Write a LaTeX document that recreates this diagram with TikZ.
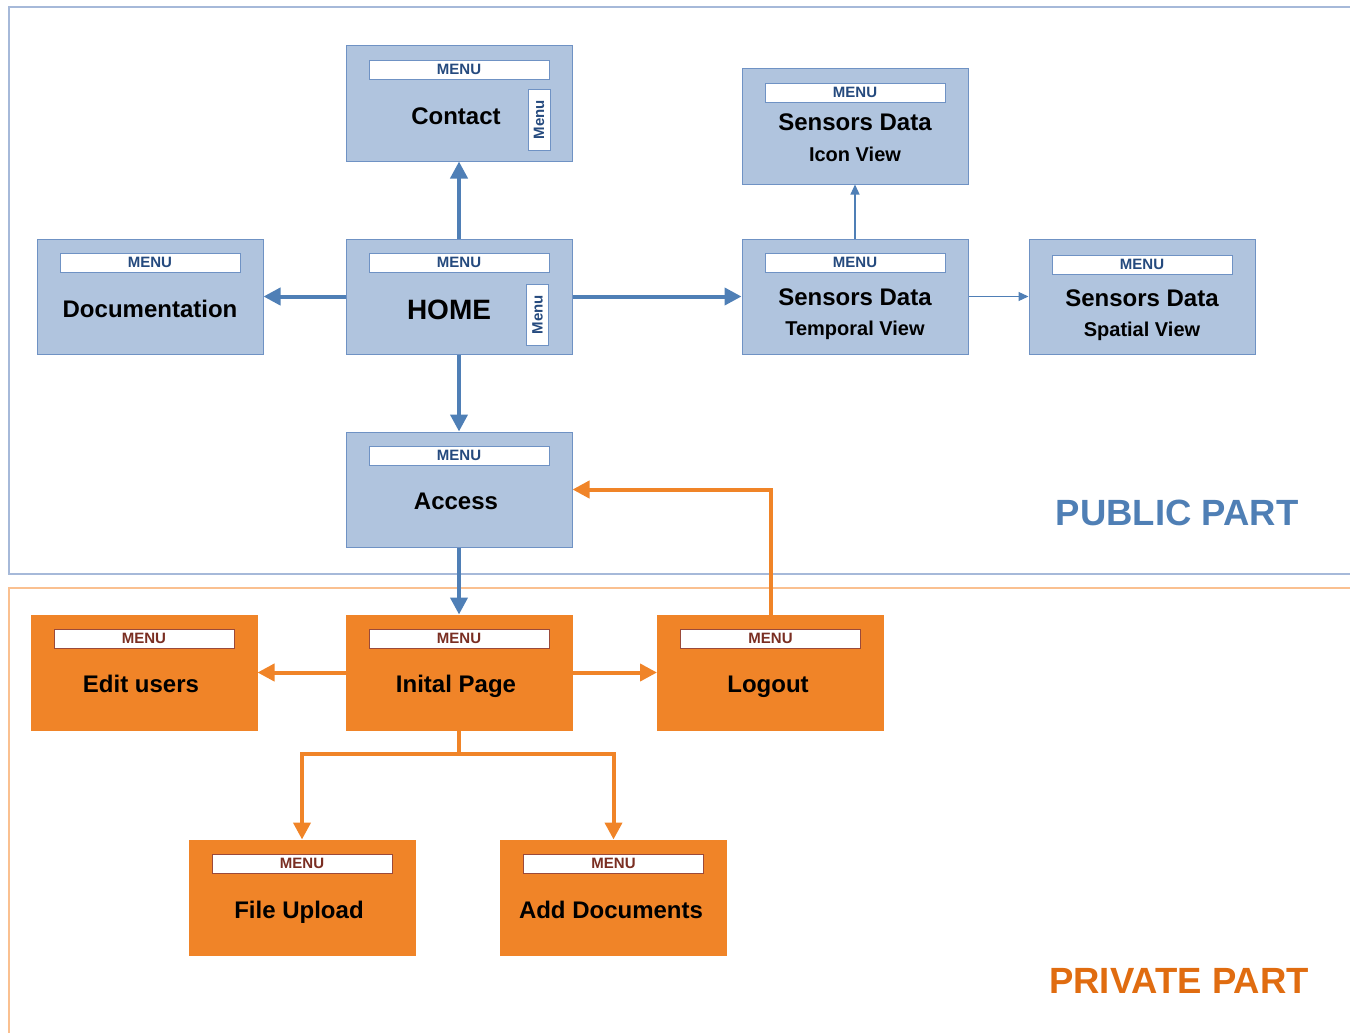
\documentclass[tikz,border=0pt]{standalone}
\usepackage{fontspec}
\setmainfont{Liberation Sans}
\usetikzlibrary{arrows.meta,calc}
\definecolor{boxblue}{HTML}{B0C4DE}
\definecolor{bordblue}{HTML}{6F92C4}
\definecolor{menublue}{HTML}{254A7E}
\definecolor{arrowblue}{HTML}{4F7FB6}
\definecolor{boxorange}{HTML}{F08428}
\definecolor{menured}{HTML}{7A2E22}
\definecolor{menuredline}{HTML}{9B4A3A}
\definecolor{publine}{HTML}{A6B9D9}
\definecolor{privline}{HTML}{FAC090}
\definecolor{pubtext}{HTML}{4F7FB5}
\definecolor{privtext}{HTML}{E06C10}
\begin{document}
\begin{tikzpicture}[x=1pt,y=-1pt,
  pbox/.style={draw=bordblue, fill=boxblue, line width=1pt, minimum width=226pt, minimum height=115pt, inner sep=0pt},
  qbox/.style={draw=boxorange, fill=boxorange, line width=1pt, minimum width=226pt, minimum height=115pt, inner sep=0pt},
  pmenu/.style={draw=bordblue, fill=white, line width=0.8pt, minimum width=180pt, minimum height=19pt, inner sep=0pt, text=menublue, font=\bfseries\fontsize{15}{15}\selectfont},
  qmenu/.style={draw=menuredline, fill=white, line width=0.8pt, minimum width=180pt, minimum height=19pt, inner sep=0pt, text=menured, font=\bfseries\fontsize{15}{15}\selectfont},
  sidemenu/.style={draw=bordblue, fill=white, line width=0.8pt, minimum width=61pt, minimum height=22pt, inner sep=0pt, rotate=90, text=menublue, font=\bfseries\fontsize{15}{15}\selectfont},
  title/.style={font=\bfseries\fontsize{24}{28}\selectfont, inner sep=0pt, text height=17.3pt, text depth=0pt},
  subtitle/.style={font=\bfseries\fontsize{20}{24}\selectfont, inner sep=0pt, text height=14.4pt, text depth=0pt},
  barrow/.style={draw=arrowblue, line width=4pt, -{Triangle[length=17pt,width=17pt]}},
  tarrow/.style={draw=arrowblue, line width=1.2pt, -{Triangle[length=10pt,width=9pt]}},
  oarrow/.style={draw=boxorange, line width=4pt, -{Triangle[length=17pt,width=17pt]}},
  oline/.style={draw=boxorange, line width=4pt},
  partlabel/.style={font=\bfseries\fontsize{36.5}{40}\selectfont, inner sep=0pt}
]
\useasboundingbox (0,0) rectangle (1350,1033);
% section borders
\draw[publine, line width=1.6pt] (1350,7) -- (9,7) -- (9,574) -- (1350,574);
\draw[privline, line width=1.6pt] (1350,588) -- (9,588) -- (9,1033);

% public boxes
\node[pbox] (contact) at (459,103.5) {};
\node[pmenu] (contactm) at ($(contact.center)+(0,-34)$) {MENU};
\node[title] (contactt) at ($(contact.center)+(-3,12.5)$) {Contact};
\node[sidemenu] (contacts) at ($(contact.center)+(80,16)$) {Menu};

\node[pbox] (doc) at (150,296.5) {};
\node[pmenu] (docm) at ($(doc.center)+(0,-34)$) {MENU};
\node[title] (doct) at ($(doc.center)+(0,12.5)$) {Documentation};

\node[pbox] (home) at (459,296.5) {};
\node[pmenu] (homem) at ($(home.center)+(0,-34)$) {MENU};
\node[font=\bfseries\fontsize{28}{32}\selectfont, inner sep=0pt] (homet) at ($(home.center)+(-10,13)$) {HOME};
\node[sidemenu] (homes) at ($(home.center)+(78.5,18)$) {Menu};

\node[pbox] (icon) at (855,126.5) {};
\node[pmenu] (iconm) at ($(icon.center)+(0,-34)$) {MENU};
\node[title] (icont) at ($(icon.center)+(0,-4.5)$) {Sensors Data};
\node[subtitle] (icons) at ($(icon.center)+(0,27.5)$) {Icon View};

\node[pbox] (temp) at (855,296.5) {};
\node[pmenu] (tempm) at ($(temp.center)+(0,-34)$) {MENU};
\node[title] (tempt) at ($(temp.center)+(0,0)$) {Sensors Data};
\node[subtitle] (temps) at ($(temp.center)+(0,31.5)$) {Temporal View};

\node[pbox] (spatial) at (1142,296.5) {};
\node[pmenu] (spatialm) at ($(spatial.center)+(0,-32)$) {MENU};
\node[title] (spatialt) at ($(spatial.center)+(0,1.5)$) {Sensors Data};
\node[subtitle] (spatials) at ($(spatial.center)+(0,32.5)$) {Spatial View};

\node[pbox] (access) at (459,489.5) {};
\node[pmenu] (accessm) at ($(access.center)+(0,-34)$) {MENU};
\node[title] (accesst) at ($(access.center)+(-3,11.5)$) {Access};

% private boxes
\node[qbox] (edit) at (144,672.5) {};
\node[qmenu] (editm) at ($(edit.center)+(0,-34)$) {MENU};
\node[title] (editt) at ($(edit.center)+(-3,11.5)$) {Edit users};

\node[qbox] (initial) at (459,672.5) {};
\node[qmenu] (initialm) at ($(initial.center)+(0,-34)$) {MENU};
\node[title] (initialt) at ($(initial.center)+(-3,11.5)$) {Inital Page};

\node[qbox] (logout) at (770.5,672.5) {};
\node[qmenu] (logoutm) at ($(logout.center)+(0,-34)$) {MENU};
\node[title] (logoutt) at ($(logout.center)+(-2.5,11.5)$) {Logout};

\node[qbox] (upload) at (302,897.5) {};
\node[qmenu] (uploadm) at ($(upload.center)+(0,-34)$) {MENU};
\node[title] (uploadt) at ($(upload.center)+(-3,12)$) {File Upload};

\node[qbox] (adddocs) at (613.5,897.5) {};
\node[qmenu] (adddocsm) at ($(adddocs.center)+(0,-34)$) {MENU};
\node[title] (adddocst) at ($(adddocs.center)+(-2.5,12)$) {Add Documents};

% part labels
\node[partlabel, text=pubtext] (publabel) at (1177,513) {PUBLIC PART};
\node[partlabel, text=privtext] (privlabel) at (1179,981) {PRIVATE PART};

% blue connectors
\draw[barrow] (home.north) -- (contact.south);
\draw[barrow] (home.west) -- (doc.east);
\draw[barrow] (home.east) -- (temp.west);
\draw[barrow] (home.south) -- (access.north);
\draw[barrow] (access.south) -- (initial.north);
\draw[tarrow] (temp.north) -- (icon.south);
\draw[tarrow] (temp.east) -- (spatial.west);

% orange connectors
\draw[oarrow] (logout.north) |- (access.east);
\draw[oarrow] (initial.west) -- (edit.east);
\draw[oarrow] (initial.east) -- (logout.west);
\draw[oline] (initial.south) -- ++(0,23) coordinate (fork);
\draw[oarrow] (fork) -| (upload.north);
\draw[oarrow] (fork) -| (adddocs.north);
\end{tikzpicture}
\end{document}
